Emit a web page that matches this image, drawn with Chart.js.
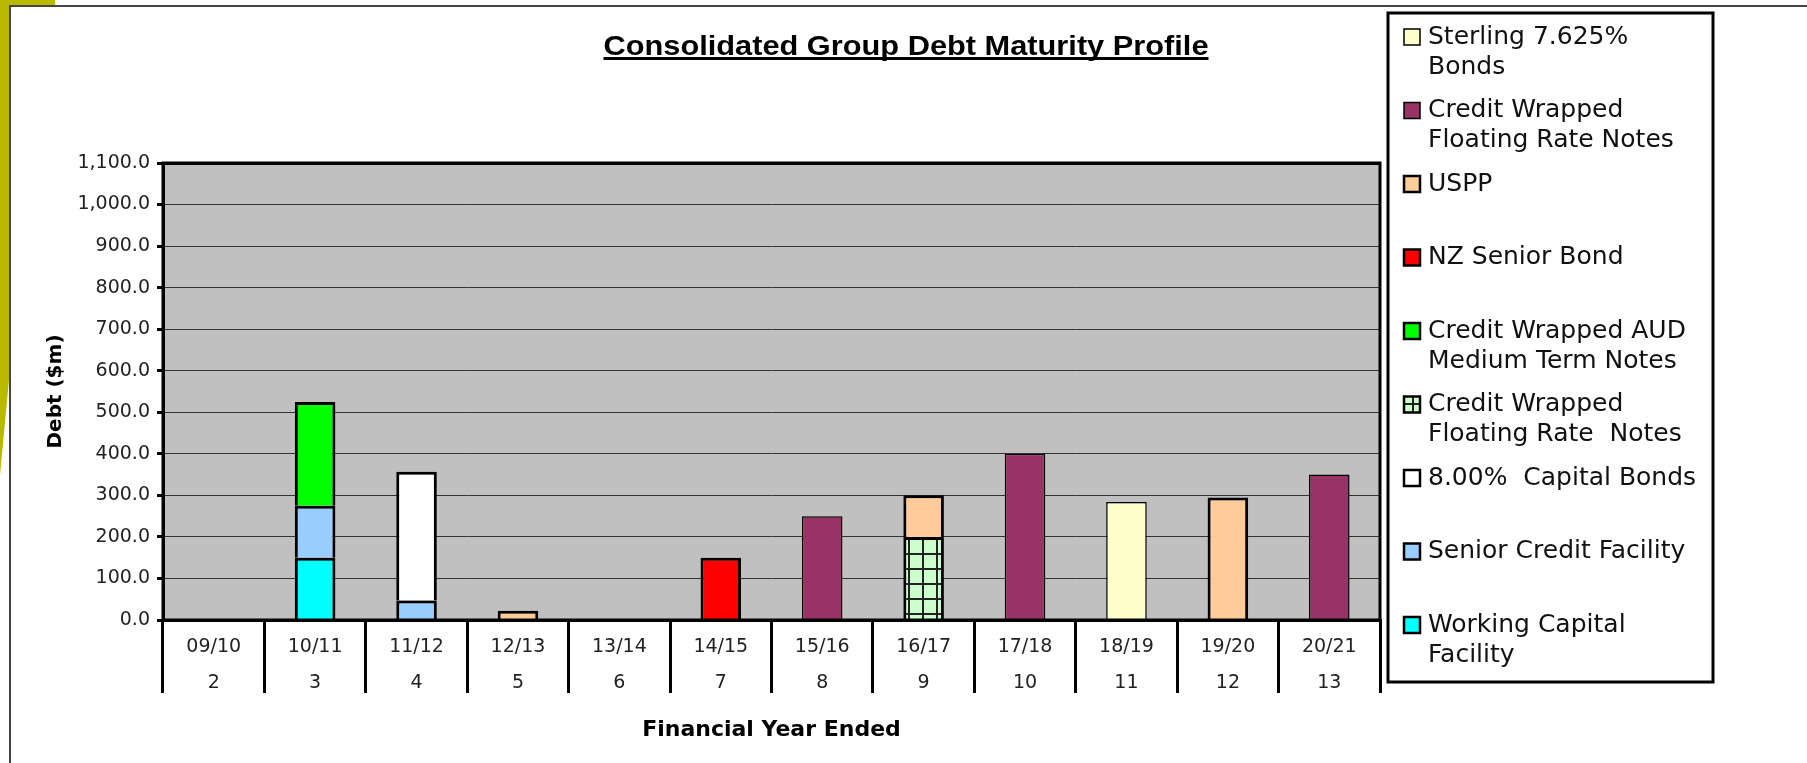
<!DOCTYPE html>
<html>
<head>
<meta charset="utf-8">
<title>Consolidated Group Debt Maturity Profile</title>
<script src="https://cdn.jsdelivr.net/npm/chart.js@4.4.1/dist/chart.umd.min.js"></script>
<style>
  html, body { margin: 0; padding: 0; background: #fff; }
  #wrap { position: relative; width: 1807px; height: 763px; overflow: hidden; }
  #chart { position: absolute; left: 0; top: 0; }
  .deco { position: absolute; pointer-events: none; }
  #oliveTop { left: 0; top: 0; width: 55px; height: 5px; background: #b9b900; }
  #oliveSide { left: 0; top: 0; width: 9px; height: 475px; background: #b9b900;
    clip-path: polygon(0 0, 100% 0, 100% 80%, 0 100%); }
  #frameTop { left: 9px; top: 5px; width: 1798px; height: 2px; background: #444; }
  #frameLeft { left: 9px; top: 5px; width: 2px; height: 758px; background: #444; }
</style>
</head>
<body>
<div id="wrap">
  <canvas id="chart" width="1807" height="763"></canvas>
  <div class="deco" id="oliveTop"></div>
  <div class="deco" id="oliveSide"></div>
  <div class="deco" id="frameTop"></div>
  <div class="deco" id="frameLeft"></div>
</div>
<script>
// financial years and period numbers (two-level category axis)
const years = ["09/10", "10/11", "11/12", "12/13", "13/14", "14/15", "15/16", "16/17", "17/18", "18/19", "19/20", "20/21"];
const periods = ["2", "3", "4", "5", "6", "7", "8", "9", "10", "11", "12", "13"];

// debt maturing ($m), series listed from bottom of the stack upwards
const workingCapitalFacility = [null, 150, null, null, null, null, null, null, null, null, null, null];
const seniorCreditFacility = [null, 125, 47, null, null, null, null, null, null, null, null, null];
const capitalBonds = [null, null, 310, null, null, null, null, null, null, null, null, null];
const wrappedFrnGrid = [null, null, null, null, null, null, null, 200, null, null, null, null];
const wrappedAudMtn = [null, 250, null, null, null, null, null, null, null, null, null, null];
const nzSeniorBond = [null, null, null, null, null, 150, null, null, null, null, null, null];
const uspp = [null, null, null, 22, null, null, null, 100, null, null, 295, null];
const wrappedFrn = [null, null, null, null, null, null, 250, null, 400, null, null, 350];
const sterlingBonds = [null, null, null, null, null, null, null, null, null, 284, null, null];

const yTicks = { min: 0, max: 1100, step: 100 };

const DebtChart = {

  chart: undefined,
  el: {},

  init: function() {
    this.el.canvas = document.getElementById("chart");
    this.renderChart(this.buildDatasets());
  },

  gridPattern: function() {
    let tile = document.createElement("canvas");
    tile.width = 14;
    tile.height = 15;
    let g = tile.getContext("2d");
    g.fillStyle = "#ccffcc";
    g.fillRect(0, 0, 14, 15);
    g.fillStyle = "#222";
    g.fillRect(12, 0, 2, 15);
    g.fillRect(0, 13, 14, 2);
    return this.el.canvas.getContext("2d").createPattern(tile, "repeat");
  },

  buildDatasets: function() {
    let bar = function(lines, data, color, border) {
      return {
        label: lines.join(" "),
        legendLines: lines,
        data: data,
        backgroundColor: color,
        borderColor: "#000",
        borderWidth: border,
        barPercentage: 0.4,
        categoryPercentage: 1.0
      };
    };

    return [
      bar(["Working Capital", "Facility"], workingCapitalFacility, "#00ffff", 3),
      bar(["Senior Credit Facility"], seniorCreditFacility, "#99ccff", 3),
      bar(["8.00%  Capital Bonds"], capitalBonds, "#ffffff", 3),
      bar(["Credit Wrapped", "Floating Rate  Notes"], wrappedFrnGrid, this.gridPattern(), 3),
      bar(["Credit Wrapped AUD", "Medium Term Notes"], wrappedAudMtn, "#00ff00", 3),
      bar(["NZ Senior Bond"], nzSeniorBond, "#ff0000", 3),
      bar(["USPP"], uspp, "#ffcc99", 3),
      bar(["Credit Wrapped", "Floating Rate Notes"], wrappedFrn, "#993366", 1.5),
      bar(["Sterling 7.625%", "Bonds"], sterlingBonds, "#ffffcc", 1.5)
    ];
  },

  // grey plot area with heavy black frame
  plotFrame: {
    id: "plotFrame",
    beforeDraw: function(chart) {
      let a = chart.chartArea;
      chart.ctx.save();
      chart.ctx.fillStyle = "#c0c0c0";
      chart.ctx.fillRect(a.left, a.top, a.width, a.height);
      chart.ctx.restore();
    },
    afterDatasetsDraw: function(chart) {
      let a = chart.chartArea;
      let ctx = chart.ctx;
      ctx.save();
      ctx.strokeStyle = "#000";
      ctx.lineWidth = 3;
      ctx.strokeRect(a.left, a.top, a.width, a.height);
      ctx.restore();
    }
  },

  // underlined heading
  heading: {
    id: "heading",
    afterDraw: function(chart) {
      let ctx = chart.ctx;
      let text = "Consolidated Group Debt Maturity Profile";
      let cx = 906, w = 605;
      ctx.save();
      ctx.font = "bold 27px 'Liberation Sans', Arial, sans-serif";
      let sx = w / ctx.measureText(text).width;
      ctx.fillStyle = "#000";
      ctx.textAlign = "center";
      ctx.textBaseline = "alphabetic";
      ctx.translate(cx, 55);
      ctx.scale(sx, 1);
      ctx.fillText(text, 0, 0);
      ctx.restore();
      ctx.fillStyle = "#000";
      ctx.fillRect(cx - w / 2, 57, w, 3);
    }
  },

  // boxed legend on the right, top of the stack listed first
  sideLegend: {
    id: "sideLegend",
    afterDraw: function(chart) {
      let ctx = chart.ctx;
      let sets = chart.data.datasets;
      ctx.save();
      ctx.strokeStyle = "#000";
      ctx.lineWidth = 3;
      ctx.strokeRect(1388, 13, 325, 669);
      ctx.font = "25px 'DejaVu Sans', Verdana, sans-serif";
      ctx.textBaseline = "middle";
      ctx.textAlign = "left";
      for (let i = 0; i < sets.length; i++) {
        let ds = sets[sets.length - 1 - i];
        let y = 37 + i * 73.5;
        ctx.fillStyle = ds.backgroundColor;
        ctx.fillRect(1404, y - 8, 16, 16);
        ctx.lineWidth = ds.borderWidth > 2 ? 2.5 : 1.5;
        ctx.strokeRect(1404, y - 8, 16, 16);
        ctx.fillStyle = "#111";
        ds.legendLines.forEach(function(line, j) {
          ctx.fillText(line, 1428, y + j * 30);
        });
      }
      ctx.restore();
    }
  },

  renderChart: function(datasets) {
    DebtChart.chart = new Chart(DebtChart.el.canvas, {
      type: "bar",
      data: {
        labels: years.map(function(y, i) { return [y, periods[i]]; }),
        datasets: datasets
      },
      options: {
        responsive: false,
        animation: false,
        layout: {
          padding: { top: 163, right: 427, bottom: 16, left: 40 }
        },
        plugins: {
          legend: { display: false },
          title: { display: false },
          tooltip: { enabled: false }
        },
        scales: {
          x: {
            stacked: true,
            afterFit: function(scale) { scale.height = 127; },
            border: { color: "#000", width: 3 },
            grid: {
              offset: true,
              drawOnChartArea: false,
              tickLength: 73,
              color: "#000",
              lineWidth: 3
            },
            ticks: {
              padding: -64,
              color: "#222",
              maxRotation: 0,
              autoSkip: false,
              font: { family: "'DejaVu Sans', Verdana, sans-serif", size: 19, lineHeight: 1.9 }
            },
            title: {
              display: true,
              text: "Financial Year Ended",
              color: "#000",
              font: { family: "'DejaVu Sans', Verdana, sans-serif", size: 22, weight: "bold" }
            }
          },
          y: {
            stacked: true,
            min: yTicks.min,
            max: yTicks.max,
            afterFit: function(scale) { scale.width = 123; },
            border: { color: "#000", width: 3 },
            grid: {
              color: function(c) { return c.tick && c.tick.value === yTicks.max ? "#000" : "#333"; },
              lineWidth: function(c) { return c.tick && c.tick.value === yTicks.max ? 3 : 1; },
              tickLength: 6,
              tickColor: "#000",
              tickWidth: 3
            },
            ticks: {
              stepSize: yTicks.step,
              padding: 7,
              color: "#222",
              font: { family: "'DejaVu Sans', Verdana, sans-serif", size: 19 },
              callback: function(v) {
                return v.toLocaleString("en-US", { minimumFractionDigits: 1, maximumFractionDigits: 1 });
              }
            },
            title: {
              display: true,
              text: "Debt ($m)",
              color: "#000",
              font: { family: "'DejaVu Sans', Verdana, sans-serif", size: 20, weight: "bold" }
            }
          }
        }
      },
      plugins: [DebtChart.plotFrame, DebtChart.heading, DebtChart.sideLegend]
    });
  }
};

DebtChart.init();
</script>
</body>
</html>
